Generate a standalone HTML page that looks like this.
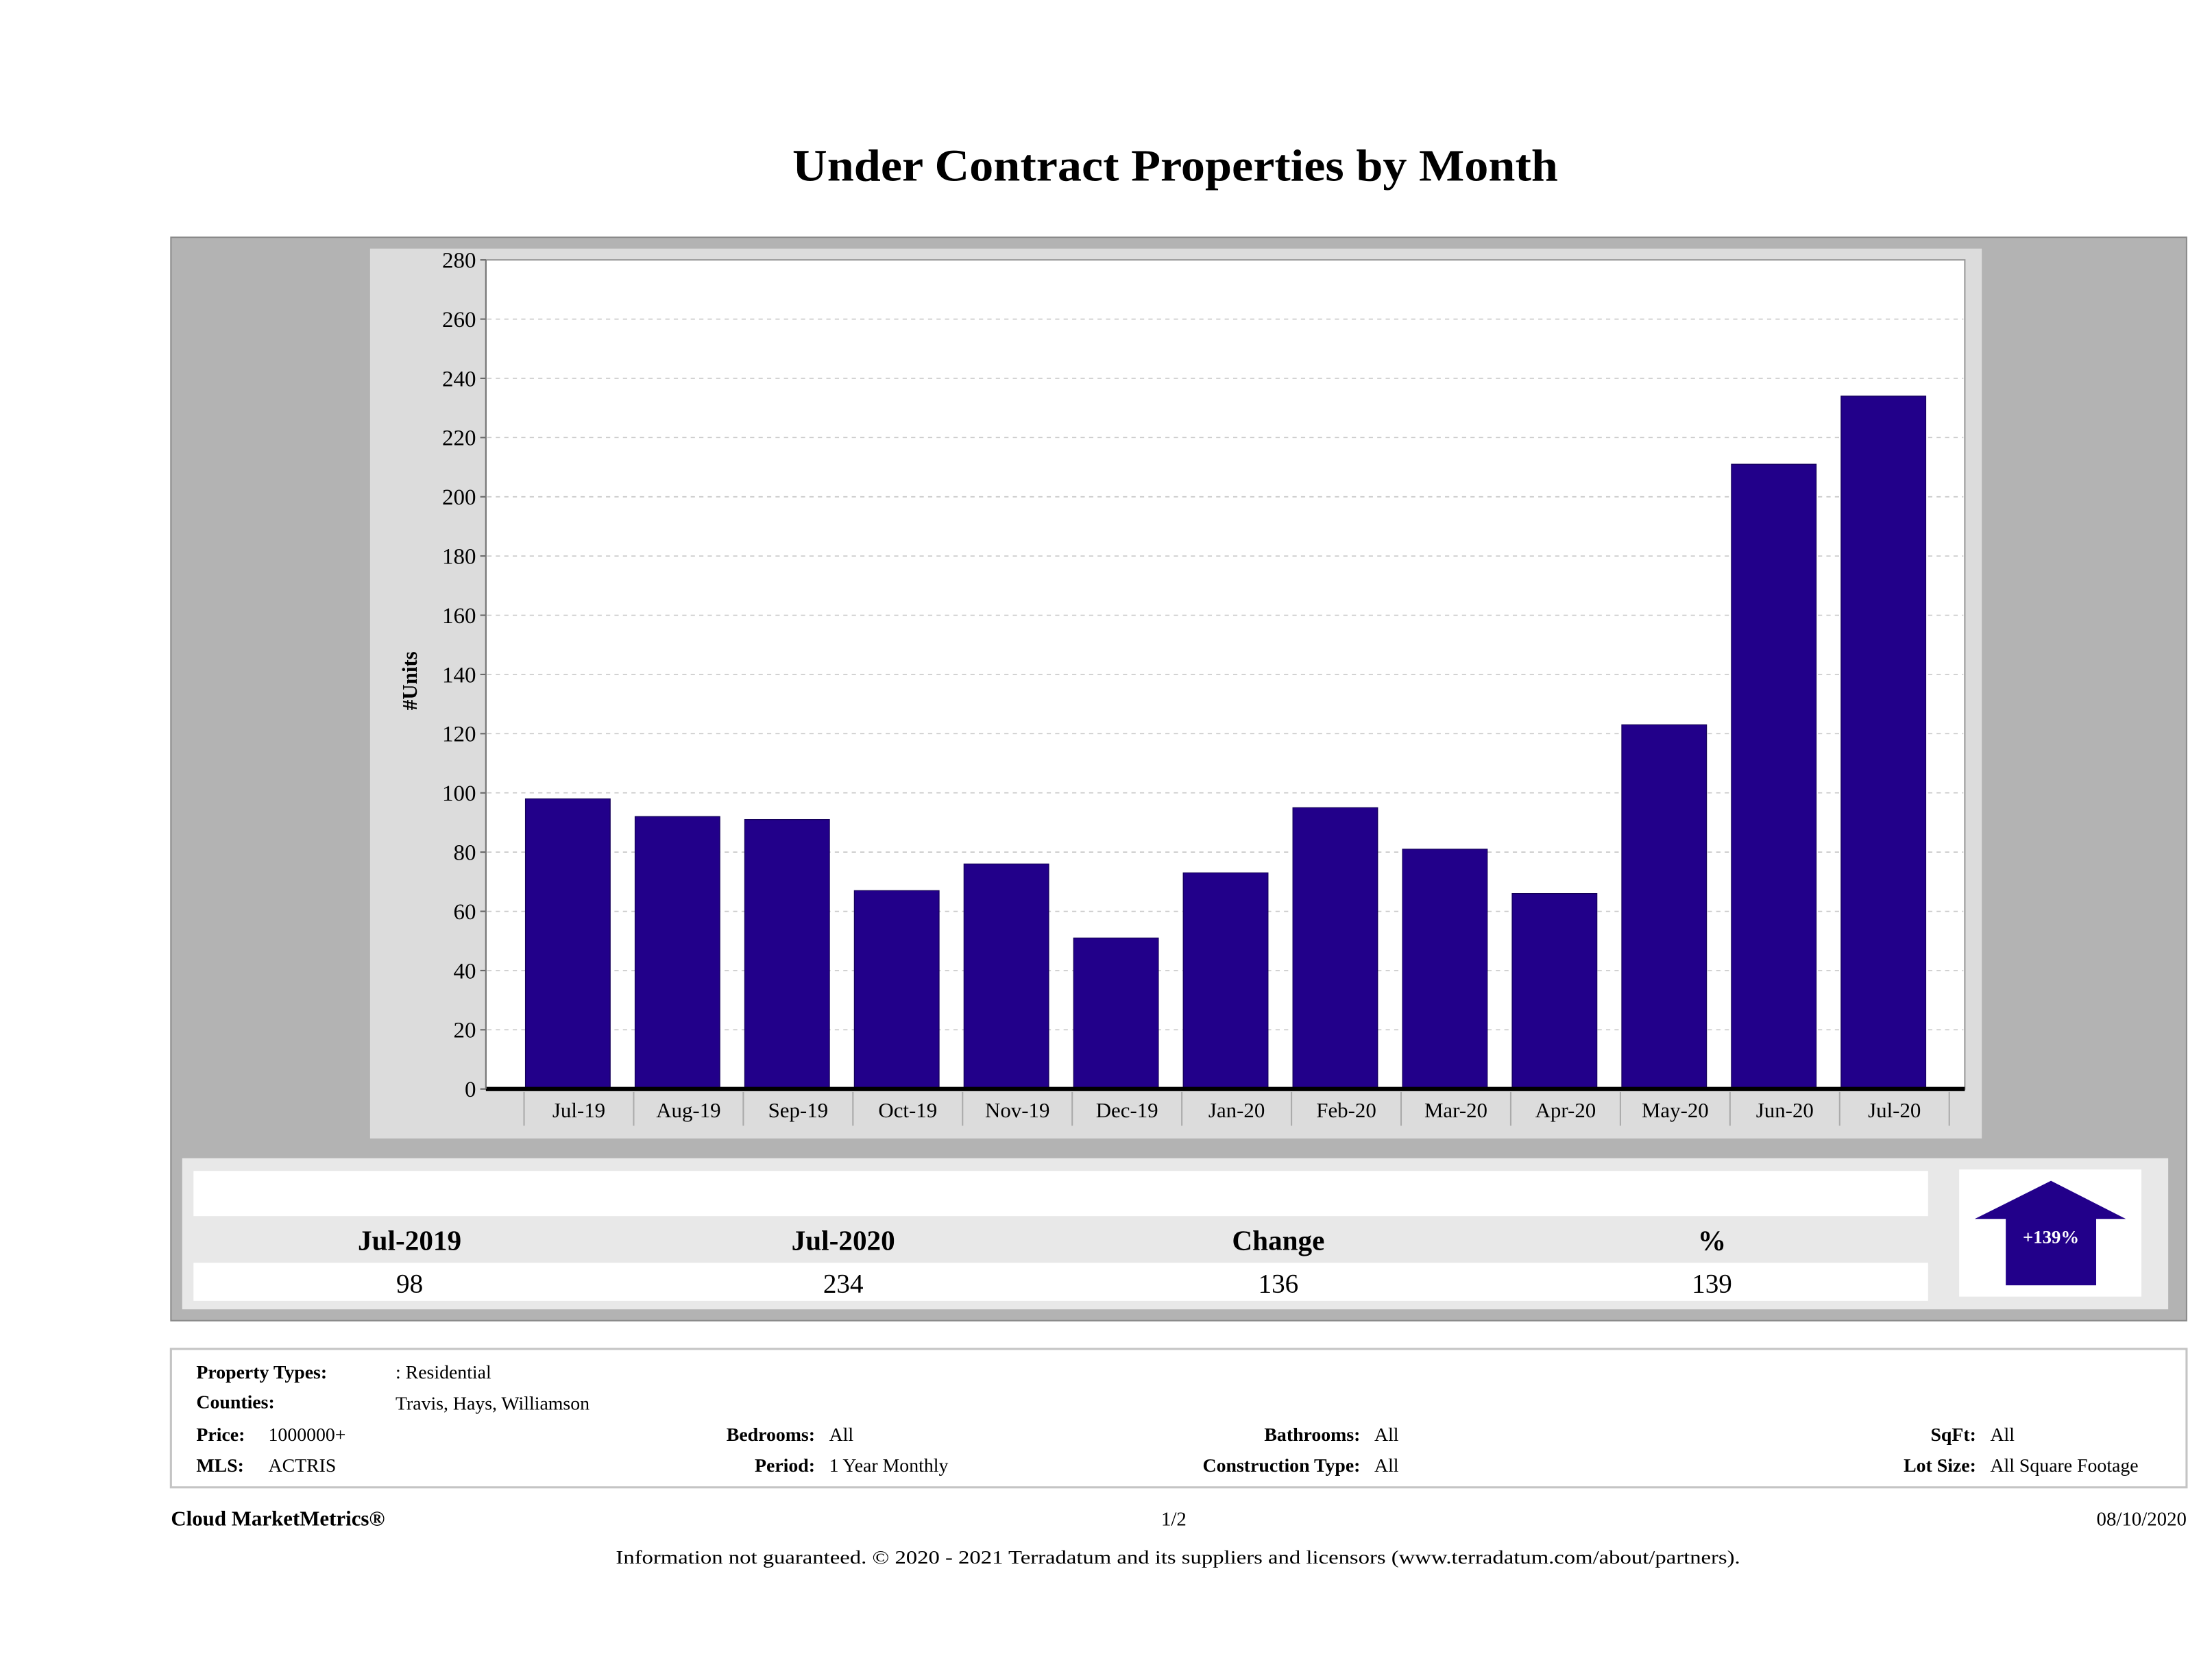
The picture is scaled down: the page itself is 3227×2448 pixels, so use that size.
<!DOCTYPE html>
<html><head><meta charset="utf-8"><style>
html,body{margin:0;padding:0;background:#fff;}
svg{display:block;font-family:"Liberation Serif",serif;}
</style></head><body>
<svg id="chart" width="3227" height="2448" viewBox="0 0 1566 1188" preserveAspectRatio="none" xmlns="http://www.w3.org/2000/svg">
<text x="832" y="128" text-anchor="middle" font-size="32" font-weight="bold" textLength="542" lengthAdjust="spacingAndGlyphs">Under Contract Properties by Month</text>
<rect x="121" y="168" width="1427" height="767" fill="#b3b3b3" stroke="#8a8a8a" stroke-width="1"/>
<rect x="262" y="176" width="1141" height="630" fill="#dcdcdc"/>
<rect x="344" y="184" width="1047" height="587" fill="#fff" stroke="#999" stroke-width="1"/>
<g id="grid"></g>
<g id="bars"></g>
<line x1="344" y1="771" x2="1391" y2="771" stroke="#000" stroke-width="3"/>
<line x1="344" y1="184" x2="344" y2="771" stroke="#777" stroke-width="1"/>
<g id="xlabels"></g>
<text transform="translate(295,482) rotate(-90)" text-anchor="middle" font-size="15" font-weight="bold">#Units</text>

<rect x="129" y="820" width="1406" height="107" fill="#e8e8e8"/>
<rect x="137" y="829" width="1228" height="32" fill="#fff"/>
<rect x="137" y="894" width="1228" height="27" fill="#fff"/>
<g font-size="20" font-weight="bold" text-anchor="middle">
<text x="290" y="885">Jul-2019</text>
<text x="597" y="885">Jul-2020</text>
<text x="905" y="885">Change</text>
<text x="1212" y="885">%</text>
</g>
<g font-size="19" text-anchor="middle">
<text x="290" y="915">98</text>
<text x="597" y="915">234</text>
<text x="905" y="915">136</text>
<text x="1212" y="915">139</text>
</g>
<rect x="1387" y="828" width="129" height="90" fill="#fff"/>
<polygon points="1452,836 1505,863 1484,863 1484,910 1420,910 1420,863 1398,863" fill="#22008a"/>
<text x="1452" y="880" text-anchor="middle" font-size="13" font-weight="bold" fill="#fff">+139%</text>

<rect x="121" y="955" width="1427" height="98" fill="#fff" stroke="#c4c4c4" stroke-width="1.5"/>
<g font-size="13.5">
<text x="139" y="976" font-weight="bold">Property Types:</text>
<text x="280" y="976">: Residential</text>
<text x="139" y="997" font-weight="bold">Counties:</text>
<text x="280" y="998">Travis, Hays, Williamson</text>
<text x="139" y="1020" font-weight="bold">Price:</text>
<text x="190" y="1020">1000000+</text>
<text x="139" y="1042" font-weight="bold">MLS:</text>
<text x="190" y="1042">ACTRIS</text>
<text x="577" y="1020" font-weight="bold" text-anchor="end">Bedrooms:</text>
<text x="587" y="1020">All</text>
<text x="577" y="1042" font-weight="bold" text-anchor="end">Period:</text>
<text x="587" y="1042">1 Year Monthly</text>
<text x="963" y="1020" font-weight="bold" text-anchor="end">Bathrooms:</text>
<text x="973" y="1020">All</text>
<text x="963" y="1042" font-weight="bold" text-anchor="end">Construction Type:</text>
<text x="973" y="1042">All</text>
<text x="1399" y="1020" font-weight="bold" text-anchor="end">SqFt:</text>
<text x="1409" y="1020">All</text>
<text x="1399" y="1042" font-weight="bold" text-anchor="end">Lot Size:</text>
<text x="1409" y="1042">All Square Footage</text>
</g>
<text x="121" y="1080" font-size="15" font-weight="bold">Cloud MarketMetrics®</text>
<text x="831" y="1080" font-size="14" text-anchor="middle">1/2</text>
<text x="1548" y="1080" font-size="14" text-anchor="end">08/10/2020</text>
<text x="834" y="1107" font-size="13.5" text-anchor="middle" textLength="796" lengthAdjust="spacingAndGlyphs">Information not guaranteed. © 2020 - 2021 Terradatum and its suppliers and licensors (www.terradatum.com/about/partners).</text>
</svg>
<script>
const categories = ["Jul-19","Aug-19","Sep-19","Oct-19","Nov-19","Dec-19","Jan-20","Feb-20","Mar-20","Apr-20","May-20","Jun-20","Jul-20"];
const units = [98,92,91,67,76,51,73,95,81,66,123,211,234];
const yTicks = [0,20,40,60,80,100,120,140,160,180,200,220,240,260,280];

const NS = "http://www.w3.org/2000/svg";
const plotTop = 184, plotBottom = 771, yMax = 280;
const catLeft = 371, catRight = 1380;
const cw = (catRight - catLeft) / categories.length;
const barW = 60;
function yScale(v){ return plotBottom - (v / yMax) * (plotBottom - plotTop); }
function xCat(i){ return catLeft + i * cw; }
function mk(tag, attrs, parent){
  const el = document.createElementNS(NS, tag);
  for (const k in attrs) el.setAttribute(k, attrs[k]);
  parent.appendChild(el);
  return el;
}
const grid = document.getElementById("grid");
const bars = document.getElementById("bars");
const xl = document.getElementById("xlabels");
yTicks.forEach(function(t){
  const y = yScale(t);
  if (t > 0 && t < yMax) {
    const g = mk("line", {x1:345, y1:y, x2:1390, y2:y, stroke:"#c8c8c8", "stroke-width":0.8, "stroke-dasharray":"3,3"}, grid);
    
    
  }
  const tk = mk("line", {x1:340, y1:y, x2:344, y2:y, stroke:"#666", "stroke-width":1}, grid);
  
  
  const lb = mk("text", {x:337, y:y+5.5, "text-anchor":"end", "font-size":16}, grid);
  lb.textContent = t;
  
  
});
categories.forEach(function(c, i){
  const x0 = xCat(i);
  const r = mk("rect", {x:x0+1, y:yScale(units[i]), width:barW, height:plotBottom - yScale(units[i]), fill:"#22008a", stroke:"#14005a", "stroke-width":0.6}, bars);
  
  
  const sep = mk("line", {x1:x0, y1:773, x2:x0, y2:797, stroke:"#aaa", "stroke-width":1}, xl);
  
  
  const t = mk("text", {x:x0 + cw/2, y:791, "text-anchor":"middle", "font-size":15}, xl);
  t.textContent = c;
  
  
});
const last = mk("line", {x1:catRight, y1:773, x2:catRight, y2:797, stroke:"#aaa", "stroke-width":1}, xl);


</script>
</body></html>
